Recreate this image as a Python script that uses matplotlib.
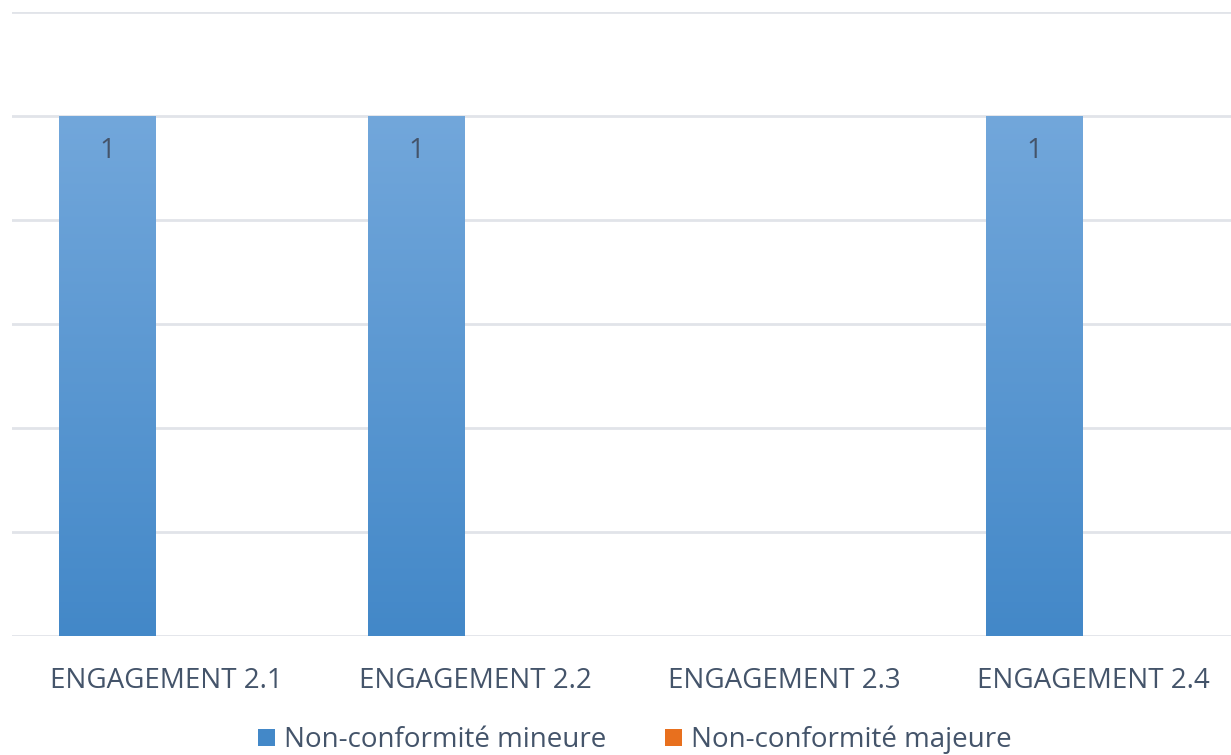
import matplotlib.pyplot as plt
import numpy as np
from matplotlib.colors import LinearSegmentedColormap
from matplotlib.patches import Patch

categories = ['ENGAGEMENT 2.1', 'ENGAGEMENT 2.2', 'ENGAGEMENT 2.3', 'ENGAGEMENT 2.4']
mineure = [1, 1, 0, 1]
majeure = [0, 0, 0, 0]
series_names = ['Non-conformité mineure', 'Non-conformité majeure']

TEXT = '#44546A'
GRID = '#E1E4E9'
BLUE_TOP, BLUE_BOT = '#72A7DB', '#4388C8'
ORANGE_TOP, ORANGE_BOT = '#F4904A', '#E8701E'

plt.rcParams['font.family'] = ['Open Sans', 'DejaVu Sans']

fig = plt.figure(figsize=(12.31, 7.55), dpi=100)
ax = fig.add_axes([12 / 1231, 119 / 755, 1 - 12 / 1231, 624 / 755])

x = np.arange(len(categories))
w = 0.311
off = -0.19

def gradient_bars(xs, vals, top, bot):
    cmap = LinearSegmentedColormap.from_list('g', [bot, top])
    grad = np.linspace(0, 1, 256).reshape(-1, 1)
    for xi, v in zip(xs, vals):
        if v <= 0:
            continue
        ax.imshow(grad, cmap=cmap, aspect='auto', origin='lower',
                  extent=(xi - w / 2, xi + w / 2, 0, v), zorder=2)
        ax.text(xi, v - 0.067, f'{v}', ha='center', va='center',
                fontsize=20, color=TEXT, zorder=3)

gradient_bars(x + off, mineure, BLUE_TOP, BLUE_BOT)
gradient_bars(x + off + w, majeure, ORANGE_TOP, ORANGE_BOT)

ax.set_xlim(-0.498, 3.447)
ax.set_ylim(0, 1.2)
ax.set_yticks(np.arange(0, 1.21, 0.2))
ax.yaxis.grid(True, color=GRID, linewidth=2)
ax.set_axisbelow(True)
ax.tick_params(axis='y', left=False, labelleft=False)
ax.tick_params(axis='x', bottom=False, labelsize=20, labelcolor=TEXT, pad=19)
ax.set_xticks(x)
ax.set_xticklabels(categories)
for s in ax.spines.values():
    s.set_visible(False)

handles = [Patch(facecolor=BLUE_BOT), Patch(facecolor=ORANGE_BOT)]
fig.legend(handles, series_names, loc='center', bbox_to_anchor=(635 / 1231, 1 - 740 / 755),
           ncol=2, frameon=False, fontsize=20, labelcolor=TEXT,
           handlelength=0.6, handleheight=0.6, handletextpad=0.35, columnspacing=2.1)

fig.savefig('out.png', dpi=100)
